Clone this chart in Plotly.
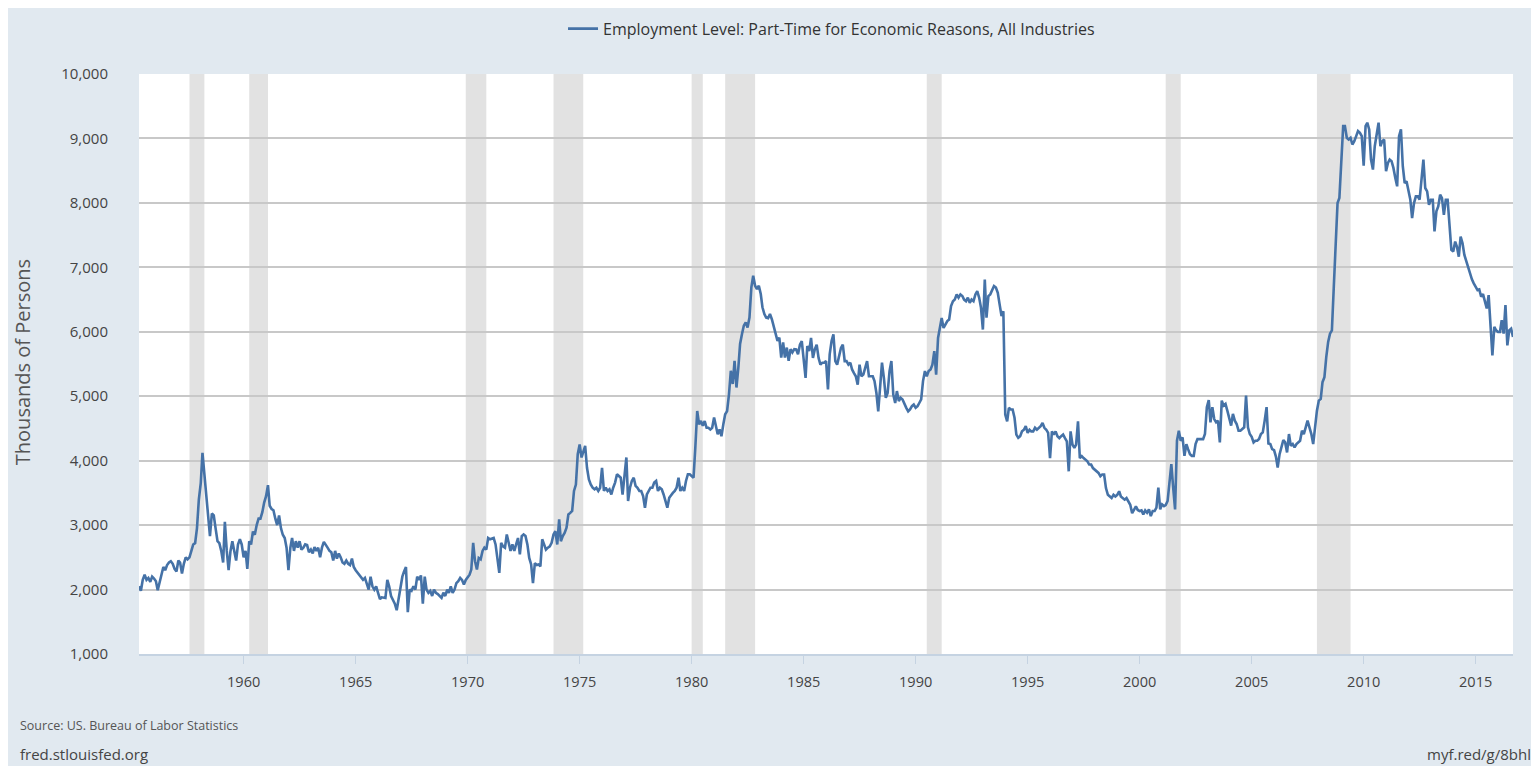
"""
FRED: Employment Level - Part-Time for Economic Reasons, All Industries
"""
import plotly.graph_objects as go
import pandas as pd

# monthly values (thousands of persons)
v1955_59 = [
    2050, 1980, 2150, 2230, 2150, 2180, 2120, 2200,
    2170, 2130, 1990, 2100, 2250, 2350, 2300, 2380, 2420, 2440, 2400, 2320,
    2280, 2450, 2420, 2250, 2400, 2500, 2470, 2500, 2600, 2700, 2720, 2950,
    3400, 3650, 4120, 3800, 3500, 3200, 2830, 3180, 3150, 2950, 2750, 2720,
    2600, 2420, 3050, 2600, 2300, 2600, 2750, 2600, 2450, 2700, 2780, 2700,
]
v1960s = [
    2500, 2600, 2320, 2750, 2700, 2900, 2850, 3000, 3100, 3100, 3200, 3350,
    3450, 3620, 3300, 3250, 3230, 3100, 3000, 3150, 2950, 2850, 2800, 2650,
    2300, 2650, 2800, 2600, 2750, 2650, 2750, 2620, 2650, 2700, 2690, 2580,
    2620, 2560, 2660, 2600, 2650, 2500, 2650, 2740, 2700, 2650, 2600, 2580,
    2450, 2600, 2480, 2560, 2500, 2420, 2400, 2450, 2400, 2380, 2480, 2350,
    2300, 2260, 2230, 2200, 2150, 2180, 2100, 2000, 2200, 2050, 2000, 2050,
    1950, 1850, 1880, 1880, 1870, 2150, 2050, 1900, 1850, 1780, 1680, 1850,
    2050, 2200, 2280, 2350, 1650, 2000, 1980, 2050, 2000, 2200, 2150, 2220,
    1780, 2200, 2000, 1950, 1980, 1900, 2000, 1950, 1930, 1900, 1870, 1950,
    1900, 2000, 1950, 2050, 1950, 2000, 2100, 2130, 2180, 2150, 2080, 2150,
]
v1970s = [
    2190, 2230, 2310, 2725, 2440, 2310, 2490, 2470, 2600, 2650, 2620, 2800,
    2780, 2790, 2800, 2700, 2440, 2260, 2725, 2670, 2650, 2855, 2725, 2600,
    2700, 2600, 2700, 2800, 2545, 2830, 2855, 2830, 2700, 2490, 2390, 2100,
    2410, 2380, 2390, 2360, 2780, 2700, 2620, 2650, 2670, 2725, 2855, 2905,
    2700, 3090, 2750, 2830, 2880, 2960, 3165, 3190, 3220, 3530, 3630, 4100,
    4250, 4050, 4150, 4230, 3890, 3710, 3630, 3580, 3555, 3580, 3530, 3580,
    3890, 3530, 3580, 3530, 3555, 3475, 3580, 3660, 3790, 3760, 3735, 3475,
    3790, 4050, 3375, 3580, 3685, 3735, 3610, 3580, 3530, 3530, 3450, 3270,
    3475, 3530, 3580, 3580, 3660, 3685, 3530, 3580, 3555, 3475, 3375, 3270,
    3425, 3475, 3500, 3530, 3580, 3735, 3530, 3580, 3530, 3685, 3790, 3790,
]
v1980s = [
    3760, 3735, 4200, 4770, 4565, 4615, 4540, 4615, 4510, 4510, 4485, 4510,
    4670, 4510, 4410, 4485, 4380, 4565, 4720, 4770, 5030, 5395, 5190, 5550,
    5135, 5445, 5810, 5965, 6095, 6145, 6065, 6220, 6690, 6870, 6715, 6660,
    6715, 6585, 6380, 6275, 6220, 6210, 6275, 6195, 6065, 5940, 5860, 5910,
    5600, 5835, 5600, 5755, 5550, 5730, 5680, 5730, 5725, 5650, 5800, 5855,
    5545, 5285, 5780, 5700, 5905, 5595, 5725, 5800, 5595, 5490, 5520, 5520,
    5545, 5105, 5650, 5855, 5960, 5545, 5490, 5650, 5750, 5800, 5545, 5545,
    5490, 5520, 5415, 5360, 5310, 5180, 5490, 5310, 5335, 5440, 5545, 5310,
    5310, 5310, 5235, 5050, 4765, 5235, 5520, 5285, 4975, 5050, 5390, 5545,
    5025, 4895, 5080, 4925, 4975, 4950, 4870, 4820, 4765, 4795, 4845, 4870,
]
v1990s = [
    4820, 4845, 4895, 4950, 5235, 5390, 5310, 5390, 5415, 5490, 5700, 5335,
    5905, 6090, 6215, 6060, 6115, 6165, 6190, 6400, 6475, 6500, 6580, 6530,
    6580, 6555, 6500, 6475, 6530, 6450, 6500, 6475, 6580, 6630, 6530, 6375,
    6035, 6810, 6220, 6555, 6580, 6660, 6710, 6685, 6605, 6425, 6245, 6320,
    4715, 4610, 4820, 4795, 4795, 4665, 4405, 4355, 4380, 4455, 4480, 4535,
    4430, 4480, 4455, 4455, 4510, 4480, 4510, 4535, 4585, 4510, 4480, 4430,
    4040, 4455, 4405, 4455, 4380, 4350, 4380, 4405, 4350, 4300, 3835, 4455,
    4250, 4200, 4250, 4610, 4040, 4070, 4040, 4015, 3990, 3940, 3940, 3885,
    3860, 3835, 3810, 3760, 3785, 3785, 3575, 3470, 3445, 3420, 3470, 3445,
    3470, 3525, 3445, 3420, 3395, 3420, 3370, 3315, 3185, 3235, 3290, 3235,
]
v2000s = [
    3218, 3228, 3166, 3228, 3192, 3244, 3140, 3218, 3218, 3270, 3582, 3244,
    3322, 3296, 3312, 3374, 3634, 3945, 3582, 3244, 4309, 4465, 4309, 4361,
    4075, 4257, 4179, 4101, 4075, 4075, 4257, 4335, 4335, 4335, 4335, 4413,
    4830, 4940, 4595, 4830, 4646, 4595, 4621, 4283, 4932, 4854, 4880, 4776,
    4673, 4543, 4725, 4621, 4569, 4465, 4465, 4491, 4517, 5010, 4517, 4413,
    4371, 4283, 4309, 4309, 4335, 4413, 4439, 4621, 4830, 4267, 4257, 4179,
    4163, 4059, 3893, 4101, 4231, 4319, 4283, 4127, 4413, 4231, 4257, 4205,
    4257, 4283, 4309, 4465, 4413, 4517, 4621, 4517, 4413, 4257, 4569, 4776,
    4932, 4958, 5218, 5296, 5608, 5842, 5971, 6023, 6699, 7426, 7997, 8075,
    8621, 9192, 9192, 9010, 8984, 9010, 8906, 8958, 9036, 9114, 9088, 9036,
]
v2010s = [
    8576, 9192, 9244, 9140, 8673, 8517, 8880, 9036, 9244, 8880, 8958, 8984,
    8491, 8621, 8673, 8647, 8543, 8387, 8257, 9036, 9140, 8569, 8309, 8335,
    8205, 8049, 7764, 7997, 8101, 8101, 8049, 8361, 8673, 8231, 8179, 7971,
    8049, 8049, 7556, 7868, 7946, 8127, 8075, 7816, 8049, 8049, 7712, 7270,
    7244, 7400, 7322, 7166, 7478, 7374, 7192, 7088, 7010, 6880, 6813, 6751,
    6699, 6647, 6657, 6543, 6585, 6491, 6361, 6569, 6075, 5634, 6075, 6023,
    5997, 5997, 6179, 5971, 6413, 5789, 6023, 6049, 5919,
]

# NBER recessions (shaded)
rec_start = ['1957-08-01', '1960-04-01', '1969-12-01', '1973-11-01', '1980-01-01',
             '1981-07-01', '1990-07-01', '2001-03-01', '2007-12-01']
rec_end = ['1958-04-01', '1961-02-01', '1970-11-01', '1975-03-01', '1980-07-01',
           '1982-11-01', '1991-03-01', '2001-11-01', '2009-06-01']

values = v1955_59 + v1960s + v1970s + v1980s + v1990s + v2000s + v2010s
dates = pd.date_range('1955-05-01', periods=len(values), freq='MS')

FONT = 'Open Sans, Arial, sans-serif'
BG = '#e1e9f0'

fig = go.Figure()

fig.add_trace(go.Scatter(
    x=dates,
    y=values,
    mode='lines',
    name='Employment Level: Part-Time for Economic Reasons, All Industries',
    line=dict(color='#4572a7', width=2.6),
))

for s, e in zip(rec_start, rec_end):
    fig.add_vrect(x0=s, x1=e, fillcolor='#e2e2e2', opacity=1,
                  line_width=0, layer='below')

# the page body has an 8px margin, so the figure is sized to end at the window edge
fig.update_layout(
    width=1531,
    height=758,
    paper_bgcolor=BG,
    plot_bgcolor='white',
    margin=dict(l=131, r=26, t=66, b=112, autoexpand=False),
    font=dict(family=FONT, color='#444'),
    showlegend=True,
    legend=dict(
        orientation='h',
        x=0.3086, xanchor='left',
        y=1.078, yanchor='middle',
        bgcolor='rgba(0,0,0,0)',
        font=dict(size=16, color='#333'),
        itemwidth=30,
    ),
    xaxis=dict(
        type='date',
        range=['1955-05-01', '2016-09-01'],
        tick0='1960-01-01',
        dtick='M60',
        tickformat='%Y',
        showgrid=False,
        ticks='outside',
        ticklen=8,
        tickcolor='#c5d3e2',
        showline=True,
        linecolor='#c5d3e2',
        linewidth=2,
        ticklabelstandoff=6,
        tickfont=dict(size=14.5, color='#444'),
    ),
    yaxis=dict(
        range=[1000, 10000],
        dtick=1000,
        tickformat=',',
        showgrid=True,
        gridcolor='#c8c8c8',
        gridwidth=1.5,
        zeroline=False,
        ticks='',
        ticklabelstandoff=30,
        tickfont=dict(size=15, color='#444'),
    ),
)

# axis title and footer text
fig.add_annotation(text='Thousands of Persons', textangle=-90,
                   xref='paper', yref='paper', x=-0.0852, y=0.503,
                   xanchor='center', yanchor='middle',
                   showarrow=False, font=dict(size=20, color='#555'))
fig.add_annotation(text='Source: US. Bureau of Labor Statistics',
                   xref='paper', yref='paper', x=-0.0881, y=-0.124,
                   xanchor='left', yanchor='middle', showarrow=False,
                   font=dict(size=12.5, color='#555'))
fig.add_annotation(text='fred.stlouisfed.org',
                   xref='paper', yref='paper', x=-0.0881, y=-0.172,
                   xanchor='left', yanchor='middle', showarrow=False,
                   font=dict(size=15, color='#444'))
fig.add_annotation(text='myf.red/g/8bhl',
                   xref='paper', yref='paper', x=1.0145, y=-0.172,
                   xanchor='right', yanchor='middle', showarrow=False,
                   font=dict(size=15, color='#444'))

fig.write_html("out.html")
